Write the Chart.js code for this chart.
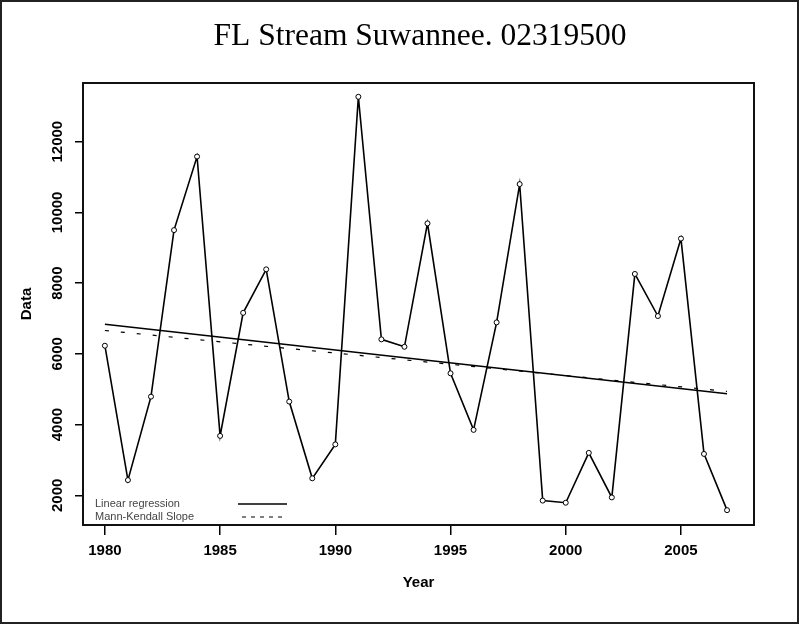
<!DOCTYPE html>
<html>
<head>
<meta charset="utf-8">
<script src="https://cdn.jsdelivr.net/npm/chart.js@4.4.1/dist/chart.umd.min.js"></script>
<style>
  html, body { margin: 0; padding: 0; background: #fff; }
  #wrap { width: 799px; height: 624px; }
</style>
</head>
<body>
<div id="wrap"><canvas id="c" width="799" height="624"></canvas></div>
<script>
// ---- Data ----
const chartTitle = "FL Stream Suwannee. 02319500";
const years = [1980,1981,1982,1983,1984,1985,1986,1987,1988,1989,1990,1991,1992,1993,
               1994,1995,1996,1997,1998,1999,2000,2001,2002,2003,2004,2005,2006,2007];
const flowValues = [6230,2430,4790,9500,11580,3680,7160,8390,4650,2480,3440,13270,6410,6200,
                    9690,5450,3850,6890,10800,1850,1790,3200,1940,8260,7070,9260,3170,1580];
const trendYears = [1980, 2007];
const regressionValues = [6840, 4870];
const mannKendallValues = [6660, 4940];
const xTicks = [1980, 1985, 1990, 1995, 2000, 2005];
const yTicks = [2000, 4000, 6000, 8000, 10000, 12000];
const legendLabels = ["Linear regression", "Mann-Kendall Slope"];
const xAxisTitle = "Year";
const yAxisTitle = "Data";

const toXY = (xs, ys) => xs.map((x, i) => ({x: x, y: ys[i]}));

const framePlugin = {
  id: 'frame',
  beforeDraw(chart) {
    const ctx = chart.ctx;
    ctx.save();
    ctx.fillStyle = '#fff';
    ctx.fillRect(0, 0, chart.width, chart.height);
    ctx.restore();
  },
  afterDraw(chart) {
    const ctx = chart.ctx;
    const a = chart.chartArea;
    ctx.save();
    // plot box
    ctx.strokeStyle = '#111';
    ctx.lineWidth = 2;
    ctx.strokeRect(a.left, a.top, a.right - a.left, a.bottom - a.top);
    // outer frame
    ctx.strokeStyle = '#222';
    ctx.lineWidth = 2;
    ctx.strokeRect(1, 1, chart.width - 2, chart.height - 2);
    // title
    ctx.fillStyle = '#000';
    ctx.font = '31.5px "Liberation Serif"';
    ctx.textAlign = 'center';
    ctx.textBaseline = 'alphabetic';
    ctx.fillText(chartTitle, 420, 45);
    // legend
    ctx.font = '11px "Liberation Sans"';
    ctx.fillStyle = '#444';
    ctx.textAlign = 'left';
    ctx.textBaseline = 'middle';
    ctx.fillText(legendLabels[0], 95, 504);
    ctx.fillText(legendLabels[1], 95, 517);
    ctx.strokeStyle = '#000';
    ctx.lineWidth = 1.5;
    ctx.beginPath();
    ctx.moveTo(238, 504); ctx.lineTo(287, 504);
    ctx.stroke();
    ctx.lineWidth = 1.2;
    ctx.setLineDash([4, 5]);
    ctx.beginPath();
    ctx.moveTo(242, 517); ctx.lineTo(285, 517);
    ctx.stroke();
    ctx.restore();
  }
};

const tickFont = {family: '"Liberation Sans"', size: 15, weight: 'bold'};

new Chart(document.getElementById('c'), {
  type: 'line',
  data: {
    datasets: [
      {
        data: toXY(years, flowValues),
        borderColor: '#000',
        borderWidth: 1.6,
        tension: 0,
        pointRadius: 2.5,
        pointBackgroundColor: '#fff',
        pointBorderColor: '#000',
        pointBorderWidth: 1
      },
      {
        data: toXY(trendYears, regressionValues),
        borderColor: '#000',
        borderWidth: 1.5,
        pointRadius: 0
      },
      {
        data: toXY(trendYears, mannKendallValues),
        borderColor: '#000',
        borderWidth: 1.2,
        borderDash: [4, 12],
        pointRadius: 0
      }
    ]
  },
  options: {
    responsive: false,
    animation: false,
    layout: {padding: {top: 83, right: 45, left: 0, bottom: 0}},
    plugins: {legend: {display: false}, tooltip: {enabled: false}, title: {display: false}},
    scales: {
      x: {
        type: 'linear',
        min: 1979.05,
        max: 2008.17,
        afterBuildTicks: s => { s.ticks = xTicks.map(v => ({value: v})); },
        afterFit: s => { s.height = 99; },
        grid: {display: true, drawOnChartArea: false, drawTicks: true, tickLength: 10, color: '#000', lineWidth: 1.5},
        border: {display: false},
        ticks: {color: '#000', font: tickFont, padding: 7, maxRotation: 0, minRotation: 0, callback: v => String(v)},
        title: {display: true, text: xAxisTitle, color: '#000', font: {family: '"Liberation Sans"', size: 15, weight: 'bold'}, padding: {top: 0, bottom: 32.6}}
      },
      y: {
        type: 'linear',
        min: 1160,
        max: 13660,
        afterBuildTicks: s => { s.ticks = yTicks.map(v => ({value: v})); },
        afterFit: s => { s.width = 83; },
        grid: {display: true, drawOnChartArea: false, drawTicks: true, tickLength: 8, color: '#000', lineWidth: 1.5},
        border: {display: false},
        ticks: {color: '#000', font: tickFont, padding: -4, minRotation: 90, maxRotation: 90, crossAlign: 'center', callback: v => String(v)},
        title: {display: true, text: yAxisTitle, color: '#000', font: {family: '"Liberation Sans"', size: 15, weight: 'bold'}, padding: {top: 18, bottom: 0}}
      }
    }
  },
  plugins: [framePlugin]
});
</script>
</body>
</html>
